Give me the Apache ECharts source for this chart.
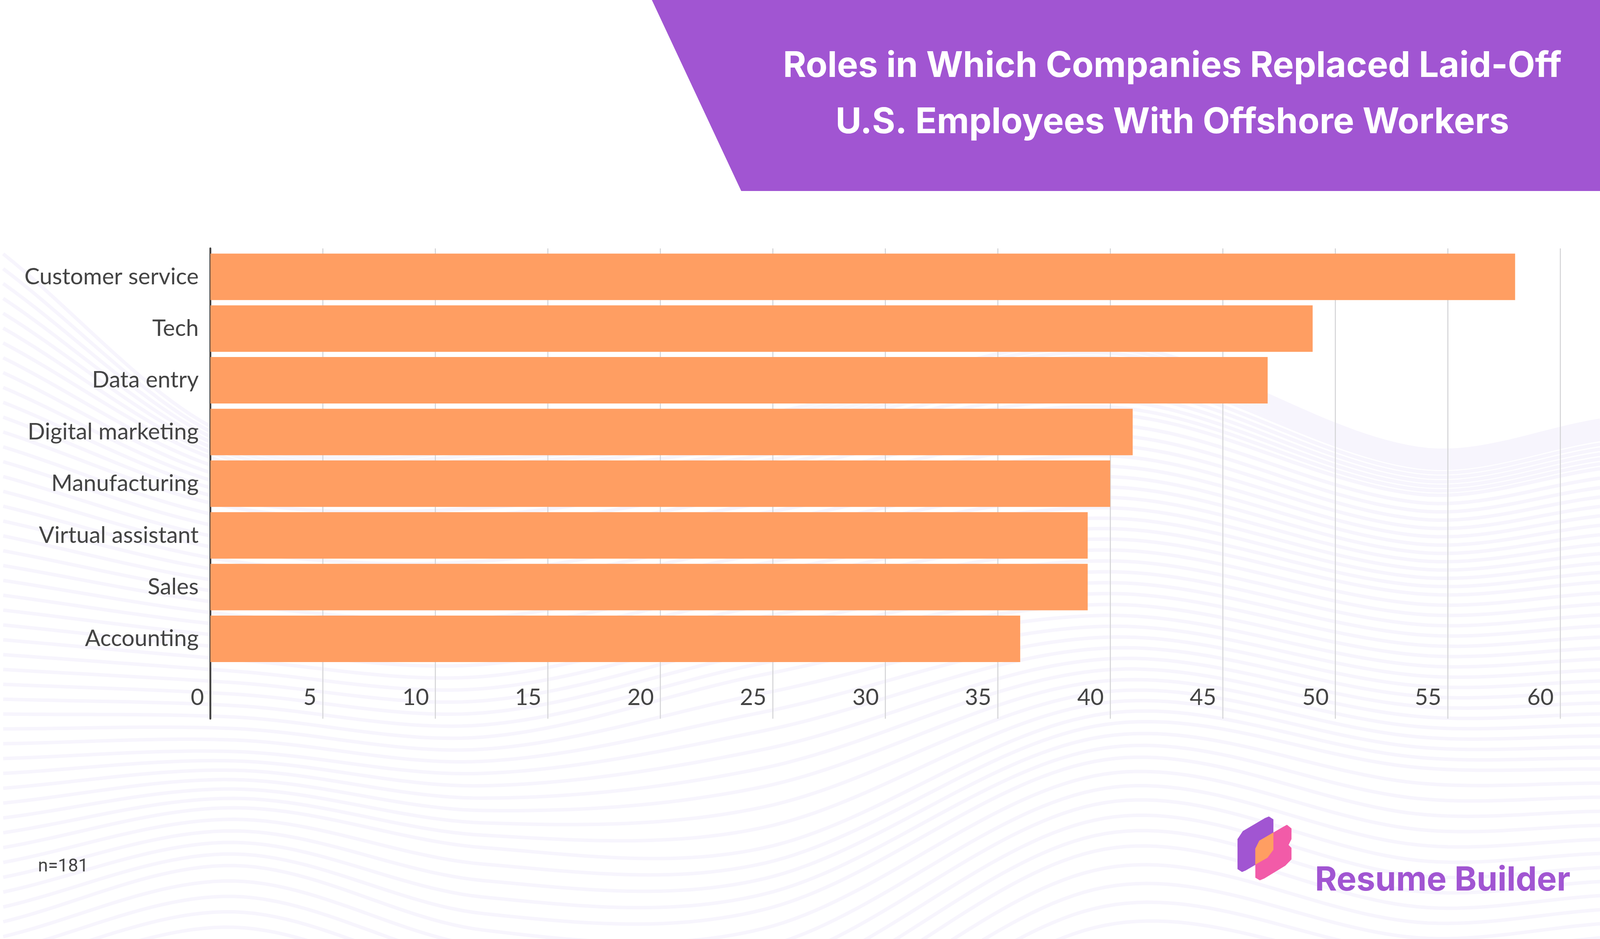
<!DOCTYPE html>
<html><head><meta charset="utf-8">
<style>html,body{margin:0;padding:0;background:#fff;overflow:hidden}#c{width:100vw;height:100vh}</style>
<script src="https://cdn.jsdelivr.net/npm/echarts@6/dist/echarts.min.js"></script>
</head><body><div id="c"></div>
<script>
const categories = ['Customer service','Tech','Data entry','Digital marketing','Manufacturing','Virtual assistant','Sales','Accounting'];
const values = [58,49,47,41,40,39,39,36];
const axisMin = 0, axisMax = 60, axisStep = 5;
const titleText = 'Roles in Which Companies Replaced Laid-Off\nU.S. Employees With Offshore Workers';
const sampleNote = 'n=181';
const brandName = 'Resume Builder';

const INK='#444444', PURPLE='#A155D2', PINK='#F25BA8', ORANGE='#FF9E62';

const chart=echarts.init(document.getElementById('c'));
const W=chart.getWidth(), H=chart.getHeight();
// layout is authored in the 6016x2404 reference frame and mapped onto the real window
const sx=W/6016, sy=H/2404, fs=Math.min(sx,sy);
const X=x=>x*sx, Y=y=>y*sy, P=p=>[X(p[0]),Y(p[1])];
const L=p=>[X(4653)+(p[0]-4653)*fs, Y(2172)+(p[1]-2172)*fs]; // logo keeps its proportions

// decorative background: contour lines, one anchor table (line index -> y) per x station
const waveStations = [
 {x:12,  a:[[0,650],[60,2930]]},
 {x:880, a:[[0,1120],[6,1190],[12,1300],[24,1630],[34,1924],[40,2068],[45,2216],[49,2374],[60,2900]]},
 {x:1817,a:[[0,1130],[6,1200],[12,1320],[24,1670],[34,1980],[40,2170],[49,2550],[60,3000]]},
 {x:2870,a:[[0,1060],[6,1120],[12,1210],[24,1520],[31,1727],[34,1871],[37,2014],[40,2171],[44,2329],[60,3100]]},
 {x:4154,a:[[0,880],[6,950],[12,1060],[24,1380],[41,1855],[44,1945],[47,2055],[50,2174],[54,2369],[60,2700]]},
 {x:5330,a:[[0,1148],[6,1195],[12,1265],[24,1520],[41,1965],[54,2480],[60,2730]]},
 {x:6016,a:[[0,1076],[6,1125],[12,1200],[24,1490],[41,1969],[54,2437],[60,2650]]}
];
const waveCount = 60;
function anchorY(table,i){
  for(let k=1;k<table.length;k++){
    if(i<=table[k][0]){const [i0,y0]=table[k-1],[i1,y1]=table[k];return y0+(y1-y0)*(i-i0)/(i1-i0);}
  }
  return table[table.length-1][1];
}
function waveLine(i){
  const st=waveStations, ys=st.map(s=>anchorY(s.a,i)), pts=[];
  for(let k=0;k<st.length-1;k++){
    const x0=st[k].x,x1=st[k+1].x, xm=st[Math.max(k-1,0)].x, xp=st[Math.min(k+2,st.length-1)].x;
    const y0=ys[k],y1=ys[k+1],ym=ys[Math.max(k-1,0)],yp=ys[Math.min(k+2,st.length-1)];
    const m0=(y1-ym)/(x1-xm||1)*(x1-x0), m1=(yp-y0)/(xp-x0||1)*(x1-x0);
    const n=Math.ceil((x1-x0)/40);
    for(let j=0;j<n;j++){const t=j/n,t2=t*t,t3=t2*t;
      pts.push([x0+(x1-x0)*t,(2*t3-3*t2+1)*y0+(t3-2*t2+t)*m0+(-2*t3+3*t2)*y1+(t3-t2)*m1]);}
  }
  pts.push([st[st.length-1].x,ys[ys.length-1]]);
  return pts.map(P);
}
const graphics=[];
for(let i=0;i<waveCount;i++){
  graphics.push({type:'polyline',silent:true,z:-5,shape:{points:waveLine(i)},style:{fill:null,stroke:'#F7F5FD',lineWidth:9*sy}});
}
graphics.push({type:'polygon',z:1,silent:true,shape:{points:[[2451,0],[6016,0],[6016,489],[2787,489]].map(P)},style:{fill:PURPLE}});
graphics.push({type:'polygon',z:1,silent:true,shape:{points:[[4653,2250],[4653,2137],[4673,2107],[4756,2058],[4771,2052],[4788,2063],[4788,2177],[4766,2207],[4684,2255],[4670,2261]].map(L)},style:{fill:PURPLE}});
graphics.push({type:'polygon',z:2,silent:true,shape:{points:[[4720,2282],[4720,2173],[4735,2143],[4823,2092],[4839,2083],[4856,2097],[4856,2137],[4845,2159],[4856,2170],[4856,2213],[4833,2237],[4754,2285],[4737,2292]].map(L)},style:{fill:PINK}});
graphics.push({type:'polygon',z:3,silent:true,shape:{points:[[4788,2112],[4788,2177],[4766,2207],[4720,2233],[4720,2173],[4735,2143]].map(L)},style:{fill:ORANGE}});
graphics.push({type:'text',z:4,silent:true,style:{text:sampleNote,x:X(143),y:Y(2196),verticalAlign:'alphabetic',font:'400 '+(68*fs)+'px Roboto',fill:INK}});
graphics.push({type:'text',z:4,silent:true,style:{text:brandName,x:X(4944),y:Y(2211),verticalAlign:'alphabetic',font:'700 '+(126*fs)+'px Inter',fill:PURPLE}});

chart.setOption({
  animation:false,
  backgroundColor:'#fff',
  title:{text:titleText,left:X(4408),top:Y(170-72),textAlign:'center',padding:0,
    textStyle:{color:'#fff',fontFamily:'Inter',fontWeight:700,fontSize:133*fs,lineHeight:144*sy}},
  graphic:graphics,
  grid:[
    {left:X(791),right:X(150),top:Y(636),height:Y(1204),containLabel:false},
    {left:X(791),right:X(150),top:Y(642.6),height:Y(1059),containLabel:false}
  ],
  xAxis:[
    {type:'value',gridIndex:0,min:axisMin,max:axisMax,interval:axisStep,
      axisLine:{show:false},axisTick:{show:false},
      splitLine:{show:true,lineStyle:{color:'#D6D6D8',width:Math.max(2,4*sx)}},
      axisLabel:{inside:true,margin:Y(24),align:'right',padding:[0,X(24),0,0],color:INK,fontFamily:'Lato',fontSize:86*fs,showMinLabel:true,showMaxLabel:true,hideOverlap:false}},
    {type:'value',gridIndex:1,min:axisMin,max:axisMax,interval:axisStep,show:false}
  ],
  yAxis:[
    {type:'value',gridIndex:0,min:0,max:1,offset:3*sx,axisLine:{show:true,lineStyle:{color:INK,width:7*sx}},axisTick:{show:false},axisLabel:{show:false},splitLine:{show:false}},
    {type:'category',gridIndex:1,inverse:true,data:categories,axisLine:{show:false},axisTick:{show:false},splitLine:{show:false},
      axisLabel:{margin:X(44),color:INK,fontFamily:'Lato',fontSize:86*fs,interval:0}}
  ],
  series:[{type:'bar',xAxisIndex:1,yAxisIndex:1,data:values,barCategoryGap:'10.1%',itemStyle:{color:ORANGE},silent:true,z:3}]
});
</script></body></html>
